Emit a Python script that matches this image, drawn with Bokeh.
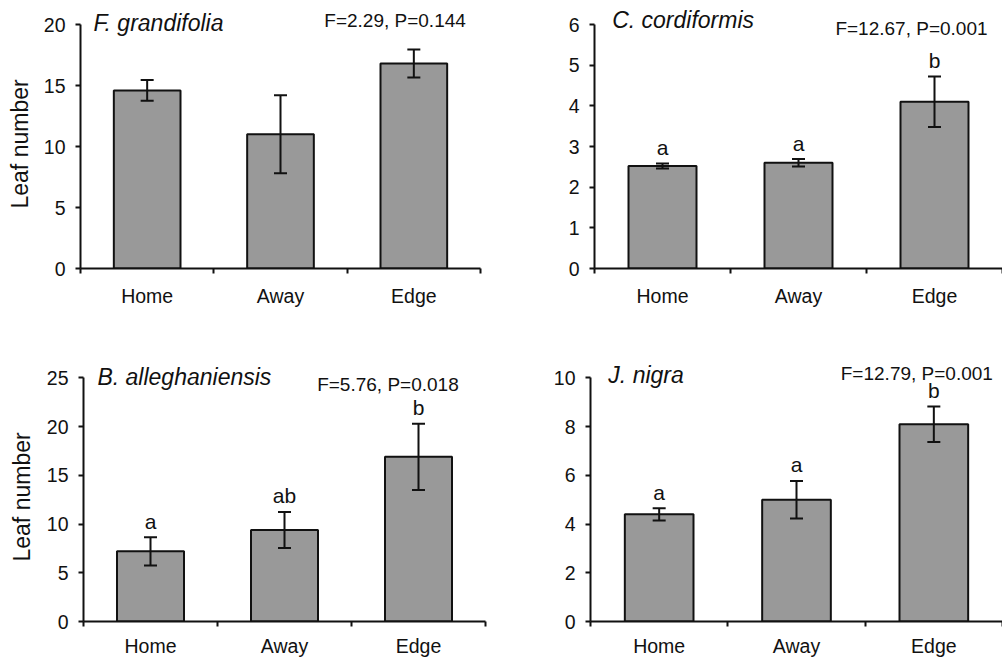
from bokeh.plotting import figure
from bokeh.models import Range1d, FixedTicker, SingleIntervalTicker, Whisker, TeeHead, Label, ColumnDataSource, Title
from bokeh.layouts import row, column
from bokeh.core.properties import value
from bokeh.embed import file_html
from bokeh.resources import INLINE

categories = ["Home", "Away", "Edge"]

fg_mean = [14.6, 11.0, 16.8]
fg_se = [0.85, 3.2, 1.15]
fg_letters = ["", "", ""]

cc_mean = [2.52, 2.6, 4.1]
cc_se = [0.06, 0.09, 0.62]
cc_letters = ["a", "a", "b"]

ba_mean = [7.2, 9.4, 16.9]
ba_se = [1.45, 1.85, 3.4]
ba_letters = ["a", "ab", "b"]

jn_mean = [4.4, 5.0, 8.1]
jn_se = [0.25, 0.77, 0.73]
jn_letters = ["a", "a", "b"]

titles = ["F. grandifolia", "C. cordiformis", "B. alleghaniensis", "J. nigra"]
stats = ["F=2.29, P=0.144", "F=12.67, P=0.001", "F=5.76, P=0.018", "F=12.79, P=0.001"]
y_max = [20, 6, 25, 10]
y_step = [5, 1, 5, 2]
y_label = "Leaf number"

FONT = "Liberation Sans"
BAR = "#999999"
INK = "#111111"


def make_panel(means, ses, letters, title, stat, ymax, ystep, show_ylabel,
               width, height, mbl, mbr, mbb, top_px, data_px, x_std, title_xy, stat_xy):
    n = len(categories)
    xs = [i + 0.5 for i in range(n)]
    src = ColumnDataSource(dict(
        x=xs, top=means,
        upper=[m + s for m, s in zip(means, ses)],
        lower=[m - s for m, s in zip(means, ses)],
        letter=letters,
    ))
    y_end = ymax * (data_px + top_px) / data_px
    p = figure(width=width, height=height, x_range=Range1d(0, n), y_range=Range1d(0, y_end),
               output_backend="svg", toolbar_location=None,
               min_border_left=mbl, min_border_right=mbr, min_border_top=0, min_border_bottom=mbb)
    p.outline_line_color = None
    p.xgrid.visible = False
    p.ygrid.visible = False
    p.background_fill_color = "white"
    p.border_fill_color = "white"

    p.vbar(x="x", top="top", width=0.5, source=src, fill_color=BAR,
           line_color=INK, line_width=2)
    w = Whisker(source=src, base="x", upper="upper", lower="lower", dimension="height",
                line_color=INK, line_width=2, level="overlay",
                upper_head=TeeHead(size=13, line_color=INK, line_width=2),
                lower_head=TeeHead(size=13, line_color=INK, line_width=2))
    p.add_layout(w)
    p.text(x="x", y="upper", text="letter", source=src, text_align="center",
           text_baseline="alphabetic", y_offset=-16, text_font=value(FONT),
           text_font_size="21px", text_color=INK)

    xa = p.xaxis[0]
    xa.ticker = FixedTicker(ticks=xs, minor_ticks=list(range(n + 1)))
    xa.major_label_overrides = {x: c for x, c in zip(xs, categories)}
    xa.major_tick_out = 0
    xa.major_tick_in = 0
    xa.minor_tick_out = 5
    xa.minor_tick_in = 0
    xa.minor_tick_line_color = INK
    xa.minor_tick_line_width = 2
    xa.axis_line_width = 2
    xa.axis_line_color = INK
    xa.major_label_text_font = FONT
    xa.major_label_text_font_size = "19.5px"
    xa.major_label_text_color = INK
    xa.major_label_standoff = x_std

    ya = p.yaxis[0]
    ya.ticker = SingleIntervalTicker(interval=ystep, num_minor_ticks=0)
    ya.bounds = (0, ymax)
    ya.major_tick_out = 5
    ya.major_tick_in = 0
    ya.minor_tick_out = 0
    ya.minor_tick_in = 0
    ya.major_tick_line_color = INK
    ya.major_tick_line_width = 2
    ya.axis_line_width = 2
    ya.axis_line_color = INK
    ya.major_label_text_font = FONT
    ya.major_label_text_font_size = "19.5px"
    ya.major_label_text_color = INK
    ya.major_label_standoff = 10
    if show_ylabel:
        yt = Title(text=y_label, align="left", offset=60, standoff=mbl - 69,
                   vertical_align="top", text_font=FONT,
                   text_font_size="23px", text_font_style="normal", text_color=INK)
        p.add_layout(yt, "left")

    p.add_layout(Label(x=title_xy[0], y=title_xy[1], text=title, text_font=FONT,
                       text_font_size="23px", text_font_style="italic",
                       text_baseline="middle", text_align="left", text_color=INK))
    p.add_layout(Label(x=stat_xy[0], y=stat_xy[1], text=stat, text_font=FONT,
                       text_font_size="19px", text_baseline="middle",
                       text_align="right", text_color=INK))
    return p


p1 = make_panel(fg_mean, fg_se, fg_letters, titles[0], stats[0], y_max[0], y_step[0], True,
                502, 318, 80, 22, 50, 24, 244, 11, (0.0975, 20.16), (2.89, 20.33))
p2 = make_panel(cc_mean, cc_se, cc_letters, titles[1], stats[1], y_max[1], y_step[1], False,
                500, 318, 92, 0, 50, 24, 244, 11, (0.13, 6.1), (2.89, 5.9))
p3 = make_panel(ba_mean, ba_se, ba_letters, titles[2], stats[2], y_max[2], y_step[2], True,
                502, 341, 83, 17, 35, 60, 246, 8, (0.104, 25.1), (2.8, 24.3))
p4 = make_panel(jn_mean, jn_se, jn_letters, titles[3], stats[3], y_max[3], y_step[3], False,
                500, 341, 88, 0, 35, 60, 246, 8, (0.13, 10.12), (2.93, 10.2))

layout = column(row(p1, p2), row(p3, p4))

open("out.html", "w").write(file_html(layout, INLINE))
